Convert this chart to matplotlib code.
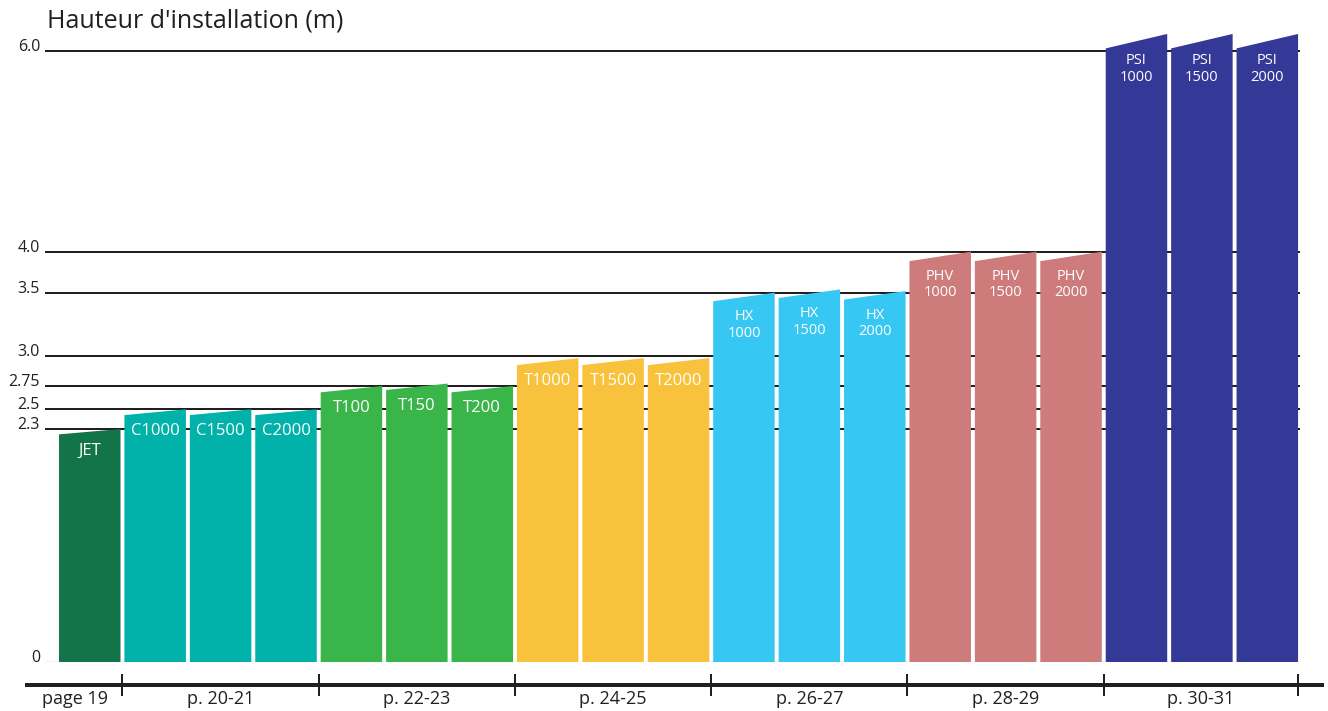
import numpy as np
import matplotlib
matplotlib.use("Agg")
from matplotlib import pyplot as plt

plt.rcParams['font.family'] = ['Open Sans', 'DejaVu Sans']

# --------------------------------------------
# data
models = ["JET", "C1000", "C1500", "C2000", "T100", "T150", "T200",
          "T1000", "T1500", "T2000", "HX\n1000", "HX\n1500", "HX\n2000",
          "PHV\n1000", "PHV\n1500", "PHV\n2000", "PSI\n1000", "PSI\n1500", "PSI\n2000"]
hauteur = [2.3, 2.5, 2.5, 2.5, 2.75, 2.77, 2.75,
           2.98, 2.98, 2.98, 3.5, 3.54, 3.52,
           4.0, 4.0, 4.0, 6.17, 6.17, 6.17]
groups = ["page 19", "p. 20-21", "p. 22-23", "p. 24-25", "p. 26-27", "p. 28-29", "p. 30-31"]
group_sizes = [1, 3, 3, 3, 3, 3, 3]
group_colors = ["#13744A", "#00B2A9", "#3AB54A", "#F9C23C", "#37C7F3", "#CD7B7B", "#343896"]
yticks = [0, 2.3, 2.5, 2.75, 3.0, 3.5, 4.0, 6.0]
ylabels = ["0", "2.3", "2.5", "2.75", "3.0", "3.5", "4.0", "6.0"]

# the value axis of the original is not linear: spacing (px) of each tick above 0
tick_space = [0, 233.3, 253, 276.3, 306.6, 369.6, 410.6, 611.3]

tv = np.array(yticks, dtype=float)
tp = np.array(tick_space, dtype=float)
s_lo = tp[1] / tv[1]
s_hi = (tp[-1] - tp[-2]) / (tv[-1] - tv[-2])


def fwd(v):
    v = np.asarray(v, dtype=float)
    out = np.interp(v, tv, tp)
    out = np.where(v < tv[0], v * s_lo, out)
    out = np.where(v > tv[-1], tp[-1] + (v - tv[-1]) * s_hi, out)
    return out


def inv(p):
    p = np.asarray(p, dtype=float)
    out = np.interp(p, tp, tv)
    out = np.where(p < tp[0], p / s_lo, out)
    out = np.where(p > tp[-1], tv[-1] + (p - tp[-1]) / s_hi, out)
    return out


# --------------------------------------------
W, H = 1328, 711
fig = plt.figure(figsize=(W / 100, H / 100), dpi=100)
base_px = 662.3
ax = fig.add_axes([0, (H - base_px) / H, 1, base_px / H])
ax.set_yscale('function', functions=(fwd, inv))

pitch = 65.42  # px per bar
x0 = 59 + 0.47 * pitch
ax.set_xlim(-x0 / pitch, (W - x0) / pitch)
ax.set_ylim(0, float(inv(base_px)))

bw = 0.94
colors = []
for c, n in zip(group_colors, group_sizes):
    colors += [c] * n

dark = "#231F20"
px2pt = 0.72

# grid lines behind the bars
ax.hlines(yticks[1:], -0.684, 18.5, color=dark, lw=2 * px2pt, zorder=1)
ax.hlines([0], -0.684, 18.5, color=dark, lw=1.1 * px2pt, zorder=1)

for i, (name, h, c) in enumerate(zip(models, hauteur, colors)):
    hl = float(inv(fwd(h) * 0.977))
    xs = [i - bw / 2, i + bw / 2, i + bw / 2, i - bw / 2]
    ys = [0, 0, h, hl]
    ax.fill(xs, ys, color=c, lw=0, zorder=2)
    hc = float(inv((fwd(h) + fwd(hl)) / 2))
    two = "\n" in name
    ax.annotate(name, xy=(i, hc), xytext=(0, -(28 if two else 19) * px2pt),
                textcoords='offset points', ha='center', va='center',
                multialignment='center', color='white',
                fontsize=10.5 if two else 12, linespacing=1.15, zorder=3)

# value ticks
ax.spines['left'].set_position(('data', -0.684))
ax.spines['left'].set_visible(False)
ax.spines['top'].set_visible(False)
ax.spines['right'].set_visible(False)
ax.set_yticks(yticks)
ax.set_yticklabels(ylabels)
ax.tick_params(axis='y', length=0, pad=5 * px2pt, labelsize=11.5, labelcolor=dark)
for lab in ax.get_yticklabels():
    lab.set_verticalalignment('baseline')

# page groups on the bottom axis
bounds = np.cumsum(group_sizes) - 0.5
bounds[-1] = len(models) - 1 + bw / 2
left_end = -bw / 2 - 0.49
right_end = bounds[-1] + 0.37
starts = np.concatenate([[left_end], bounds[:-1]])
centers = (starts + bounds) / 2

ax.spines['bottom'].set_position(('outward', 22.7 * px2pt))
ax.spines['bottom'].set_linewidth(4 * px2pt)
ax.spines['bottom'].set_color(dark)
ax.spines['bottom'].set_bounds(left_end, right_end)
ax.set_xticks(bounds)
ax.set_xticklabels([""] * len(bounds))
ax.set_xticks(centers, minor=True)
ax.set_xticklabels(groups, minor=True)
ax.tick_params(axis='x', which='major', direction='inout', length=23 * px2pt,
               width=2 * px2pt, color=dark)
ax.tick_params(axis='x', which='minor', length=0, pad=5 * px2pt,
               labelsize=13, labelcolor=dark)

fig.text(47 / W, (H - 27) / H, "Hauteur d'installation (m)", fontsize=18,
         color=dark, ha='left', va='baseline')

fig.savefig("out.png", dpi=100)
